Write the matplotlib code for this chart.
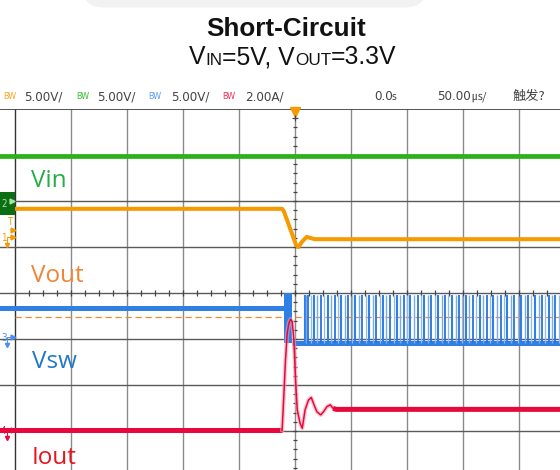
import numpy as np
import matplotlib
matplotlib.use('Agg')
import matplotlib.pyplot as plt
from matplotlib.patches import FancyBboxPatch, Rectangle

# ---------------- data (time in microseconds, values in screen divisions) ----------------
vin_t = [-265, 240]
vin_v = [2.98, 2.98]

vout_t = [-265, -11.5, -10, 1, 3, 6.5, 10.5, 17.5, 240]
vout_v = [1.83, 1.83, 1.78, 1.04, 1.00, 1.12, 1.22, 1.17, 1.17]

vsw_pre_t = [-265, -9.5]
vsw_pre_v = [-0.33, -0.33]
vsw_block_t = [-9.5, -3.0]
vsw_block_v = [-1.08, 0.0]
vsw_low_t = [-3.0, 240]
vsw_low_v = [-1.08, -1.08]
vsw_pulse_t = [9, 10, 11.5, 14, 17, 20, 23, 26, 29.5, 32.5, 35.5, 38.5, 41.5, 44.5,
               47.5, 51, 54, 57, 60, 63, 66, 69.5, 72.5, 75.5, 78.5, 81.5, 84.5, 88,
               91, 94, 97, 100, 103, 106.5, 109.5, 112.5, 115.5, 118.5, 121.5, 125,
               128, 131, 134, 137, 140, 143.5, 146.5, 149.5, 152.5, 155.5, 158.5, 162,
               165, 168, 171, 174, 177, 180.5, 183.5, 186.5, 189.5, 192.5, 195.5, 199,
               202, 205, 208, 211, 214, 217.5, 220.5, 223.5, 226.5, 229.5, 232.5, 236]
vsw_pulse_v = [-1.08, -0.04]

iout_t = [-265, -11.5, -10, -8.5, -7, -5.5, -4, -2.5, -1, 0.5, 2, 4.5, 6.5, 9, 12,
          14.5, 16.5, 19.5, 23, 25.5, 28.5, 31.5, 34, 37, 240]
iout_v = [-2.98, -2.98, -2.25, -1.46, -0.88, -0.66, -0.57, -0.62, -1.02, -1.89,
          -2.54, -2.83, -2.94, -2.54, -2.33, -2.27, -2.40, -2.58, -2.65, -2.58,
          -2.47, -2.43, -2.51, -2.53, -2.53]

trig_level = -0.52

labels = ['Vin', 'Vout', 'Vsw', 'Iout']
header_scale = ['5.00V/', '5.00V/', '5.00V/', '2.00A/']
title = 'Short-Circuit'

# ---------------- fonts ----------------
arial = 'Liberation Sans'
plt.rcParams['font.family'] = [arial, 'DejaVu Sans']
HDR = dict(family=['DejaVu Sans'], fontstretch='condensed')

W, H = 560, 470
fig = plt.figure(figsize=(W / 100, H / 100), dpi=100)
fig.patch.set_facecolor('white')
renderer = fig.canvas.get_renderer()

# decoration axes in pixel space
deco = fig.add_axes([0, 0, 1, 1])
deco.set_xlim(0, W)
deco.set_ylim(H, 0)
deco.axis('off')
deco.add_patch(FancyBboxPatch((82, -60), 345, 67.5,
                              boxstyle='round,pad=0,rounding_size=22',
                              fc='#f2f2f2', ec='none'))

# scope axes
TOP, CEN, DIVY, X0, DIVX = 109, 293, 46.0, 15, 56.0
def px2t(px):
    return ((px - X0) / DIVX - 5) * 50
def py2v(py):
    return (CEN - py) / DIVY

ax = fig.add_axes([0, 0, 1, (H - TOP) / H])
ax.set_facecolor('none')
ax.set_xlim(px2t(0), px2t(W))
ax.set_ylim(py2v(H), py2v(TOP))
ax.axis('off')

# grid
for d in range(0, 10):
    ax.axvline((d - 5) * 50, color='#333333' if d == 0 else '#8a8a8a', lw=1.0, zorder=1)
for v in range(-3, 4):
    ax.axhline(v, color='#5a5a5a', lw=1.0, zorder=1)
ax.axhline(4, color='#444444', lw=1.3, zorder=1)
# centre-axis ticks
ax.vlines(np.arange(-250, 240, 12.5), -0.055, 0.055, color='#444444', lw=0.9, zorder=1)
ax.hlines(np.arange(-3.8, 4.0, 0.2), -2.2, 2.2, color='#444444', lw=0.9, zorder=1)

GREEN = '#2cb11a'
ORANGE = '#f59a00'
BLUE = '#2f7fe4'
RED = '#e8083c'

# traces
ax.plot(vin_t, vin_v, color=GREEN, lw=3.4, solid_capstyle='butt', zorder=3)
ax.plot(vout_t, vout_v, color=ORANGE, lw=2.9, solid_capstyle='butt', zorder=3)
ax.hlines(trig_level, px2t(X0), px2t(W), color='#f08a30', lw=0.9,
          linestyles=(0, (5, 3)), zorder=2)

ax.plot(vsw_pre_t, vsw_pre_v, color=BLUE, lw=3.6, solid_capstyle='butt', zorder=3)
ax.fill_between(vsw_block_t, vsw_block_v[0], vsw_block_v[1], color=BLUE, lw=0, zorder=3)
ax.plot(vsw_low_t, vsw_low_v, color=BLUE, lw=3.6, solid_capstyle='butt', zorder=3)
pw = [1.5, 1.0, 1.3, 0.9]
pc = [BLUE, '#78aaf0', '#2a74d8', '#8fbaf3']
for i, t in enumerate(vsw_pulse_t):
    ax.vlines(t, vsw_pulse_v[0], vsw_pulse_v[1], color=pc[i % 4], lw=pw[i % 4], zorder=3)

it = np.array(iout_t)
iv = np.array(iout_v)
ax.plot(it[:2], iv[:2], color=RED, lw=3.6, solid_capstyle='butt', zorder=4)
ax.plot(it[1:-1], iv[1:-1], color='#f7a0b4', lw=3.0, alpha=0.6, zorder=4)
ax.plot(it[1:-1], iv[1:-1], color=RED, lw=1.1, zorder=5)
ax.plot(it[-3:], iv[-3:], color=RED, lw=3.6, solid_capstyle='butt', zorder=4)

# trace labels
lab_font = ['Open Sans', 'DejaVu Sans']
lab_cols = ['#27ad45', '#f08436', '#1f78c8', '#e8141e']
lab_px = [(30.7, 186.7), (30.7, 281.7), (31.7, 368.3), (31.7, 463.8)]
for s, c, (x, y) in zip(labels, lab_cols, lab_px):
    ax.text(px2t(x), py2v(y), s, color=c, fontsize=17.5, family=lab_font,
            va='baseline', ha='left', zorder=6)

# channel markers
ax.add_patch(Rectangle((px2t(0), py2v(215)), px2t(15) - px2t(0), py2v(192) - py2v(215),
                       fc='#0b6e12', ec='none', zorder=6, clip_on=False))
ax.text(px2t(1), py2v(204), '2', color='#a6e6a6', fontsize=7, va='center',
        ha='left', zorder=7, **HDR)
ax.plot(px2t(11.5), py2v(201), marker='>', ms=3.5, color='#a6e6a6', zorder=7)
ax.text(px2t(9.5), py2v(222), 'T', color=ORANGE, fontsize=7, va='center',
        ha='center', zorder=6, **HDR)
ax.plot(px2t(12.5), py2v(229.5), marker='>', ms=3.5, color=ORANGE, zorder=6)
for num, col, py in [('1', ORANGE, 238), ('3', '#4a8ff0', 338), ('4', RED, 431)]:
    ax.text(px2t(1), py2v(py), num, color=col, fontsize=7, va='center',
            ha='left', zorder=6, **HDR)
    ax.plot(px2t(12.5), py2v(py - 1), marker='>', ms=3.5, color=col, zorder=6)
    ax.plot([px2t(7), px2t(7), px2t(11)], [py2v(py + 5), py2v(py - 1), py2v(py - 1)],
            color=col, lw=0.7, zorder=6)
    ax.plot(px2t(7), py2v(py + 7), marker='v', ms=3, color=col, zorder=6)

# trigger position marker
ax.plot(0, py2v(112), marker='v', ms=7, color=ORANGE, clip_on=False, zorder=6)
ax.plot(0, py2v(118), marker='+', ms=4, mew=0.8, color='#444444', clip_on=False, zorder=6)

# header row
HY = 1 - 96.7 / H
bw_cols = ['#f5a623', '#34c234', '#5c9cf5', '#f0305a']
bw_x = [3, 76, 148, 222]
sc_x = [24, 97, 171, 245]
for c, bx, sx, s in zip(bw_cols, bw_x, sc_x, header_scale):
    fig.text(bx / W, HY, 'BW', color=c, fontsize=6.5, va='center', ha='left', **HDR)
    fig.text(sx / W, HY, s, color='#444444', fontsize=9.5, va='center', ha='left', **HDR)
fig.text(374 / W, HY, '0.0', color='#444444', fontsize=9.5, va='center', ha='left', **HDR)
fig.text(392 / W, HY, 's', color='#444444', fontsize=7.5, va='center', ha='left', **HDR)
t50 = fig.text(437 / W, HY, '50.00', color='#444444', fontsize=9.5, va='center',
               ha='left', **HDR)
x50 = t50.get_window_extent(renderer).x1 + 1
fig.text(x50 / W, HY, '㎲/', color='#444444', fontsize=8,
         family=['Noto Sans CJK SC', 'DejaVu Sans'], va='center', ha='left')
fig.text(513 / W, HY, '触发?', color='#444444', fontsize=9.5,
         family=['Noto Sans CJK SC', 'DejaVu Sans'], va='center', ha='left')

# titles
fig.text(286 / W, 1 - 35.7 / H, title, fontsize=18.8, fontweight='bold',
         family=arial, color='#111111', ha='center', va='baseline')

pieces = [('V', 17.8, 0.0), ('IN', 12.3, 0.8), ('=5V, V', 17.8, 0.0),
          ('OUT', 12.3, 0.8), ('=3.3V', 17.8, 0.0)]
x = 189.0
base = 64.3
for s, fs, dy in pieces:
    t = fig.text(x / W, 1 - (base + dy) / H, s, fontsize=fs, family=arial,
                 color='#111111', ha='left', va='baseline')
    bb = t.get_window_extent(renderer)
    x += bb.width

fig.savefig('out.png', dpi=100, facecolor='white')
